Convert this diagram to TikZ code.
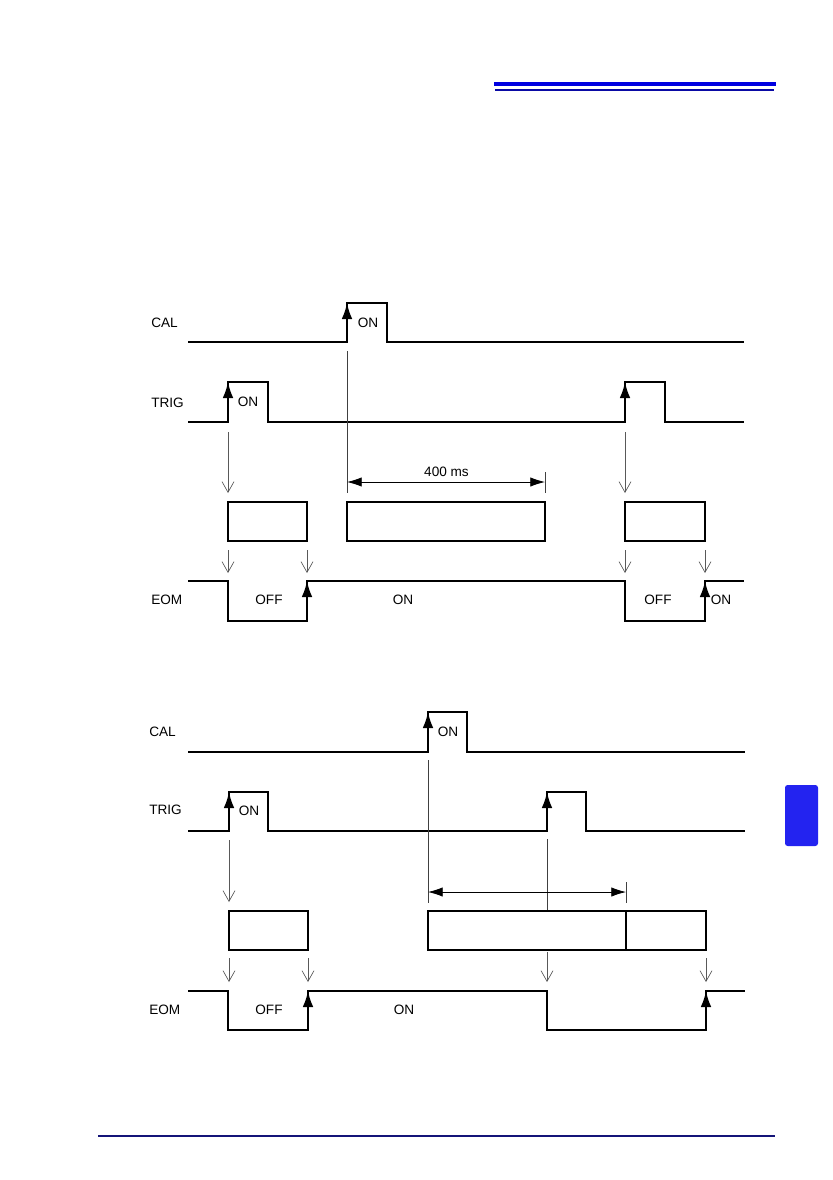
\documentclass[tikz,border=0pt]{standalone}
\usepackage{fontspec}
\setmainfont{Liberation Sans}
\usetikzlibrary{arrows.meta}
\definecolor{headblue}{RGB}{0,0,225}
\definecolor{headnavy}{RGB}{10,10,165}
\definecolor{tabblue}{RGB}{35,35,240}
\definecolor{footnavy}{RGB}{20,20,120}
\tikzset{
  sig/.style={line width=1.45pt, line join=miter},
  edgeup/.style={-{Latex[length=12pt,width=8pt]}, line width=1.45pt},
  drop/.style={-{Straight Barb[length=8pt,width=9pt]}, line width=0.5pt, draw=black!65},
  guide/.style={line width=0.55pt, draw=black!75},
  procbox/.style={line width=1.1pt},
  dimline/.style={{Latex[length=11pt,width=7pt]}-{Latex[length=11pt,width=7pt]}, line width=0.6pt},
  lbl/.style={font=\fontsize{10.2}{12}\selectfont, inner sep=0pt}
}
\begin{document}
\begin{tikzpicture}[x=0.75pt, y=-0.75pt]
  \useasboundingbox (0,0) rectangle (832,1180);
  % page furniture
  \fill[headblue] (494,82) rectangle (776,86);
  \fill[headnavy] (495,89) rectangle (774,91);
  \fill[tabblue, rounded corners=2pt] (785,785) rectangle (818,846);
  \draw[footnavy, line width=0.8pt] (98,1136) -- (775,1136);

  % ---- first chart
  \foreach \y/\name/\lab in {323/cala/CAL, 403/triga/TRIG, 600/eoma/EOM}
    \node[lbl, anchor=west] (\name) at (151,\y) {\lab};
  \draw[sig] (188,342) -- (347,342) -- (347,303) -- (387,303) -- (387,342) -- (744,342);
  \draw[sig] (188,422) -- (228,422) -- (228,382) -- (268,382) -- (268,422)
    -- (625,422) -- (625,382) -- (665,382) -- (665,422) -- (744,422);
  \draw[sig] (188,581) -- (228,581) -- (228,621) -- (307,621) -- (307,581)
    -- (625,581) -- (625,621) -- (705,621) -- (705,581) -- (744,581);
  \foreach \x/\lo/\hi in {347/342/303, 228/422/382, 625/422/382, 307/621/581, 705/621/581}
    \draw[edgeup] (\x,\lo) -- (\x,\hi);
  \node[lbl] (cona) at (368,323) {ON};
  \node[lbl] (tona) at (248,402) {ON};
  \node[lbl] (offa) at (269,600) {OFF};
  \node[lbl] (eona) at (403,600) {ON};
  \node[lbl] (offb) at (658,600) {OFF};
  \node[lbl] (eonb) at (721,600) {ON};
  % guides and measuring boxes
  \draw[guide] (347,351) -- (347,493);
  \draw[guide] (545,472) -- (545,493);
  \draw[dimline] (347,482) -- (545,482);
  \node[lbl] (wait) at (446.5,472) {400 ms};
  \foreach \x in {228, 625}
    \draw[drop] (\x,432) -- (\x,493);
  \foreach \a/\b in {228/307, 347/545, 625/705}
    \draw[procbox] (\a,502) rectangle (\b,541);
  \foreach \x in {228, 307, 625, 705}
    \draw[drop] (\x,550) -- (\x,573);

  % ---- second chart
  \foreach \y/\name/\lab in {732/calb/CAL, 810/trigb/TRIG, 1010/eomb/EOM}
    \node[lbl, anchor=west] (\name) at (149,\y) {\lab};
  \draw[sig] (188,752) -- (428,752) -- (428,712) -- (467,712) -- (467,752) -- (745,752);
  \draw[sig] (188,831) -- (229,831) -- (229,792) -- (268,792) -- (268,831)
    -- (547,831) -- (547,792) -- (586,792) -- (586,831) -- (745,831);
  \draw[sig] (188,991) -- (228,991) -- (228,1030) -- (308,1030) -- (308,991)
    -- (547,991) -- (547,1030) -- (706,1030) -- (706,991) -- (745,991);
  \foreach \x/\lo/\hi in {428/752/712, 229/831/792, 547/831/792, 308/1030/991, 706/1030/991}
    \draw[edgeup] (\x,\lo) -- (\x,\hi);
  \node[lbl] (conb) at (448,732) {ON};
  \node[lbl] (tonb) at (249,811) {ON};
  \node[lbl] (offc) at (269,1010) {OFF};
  \node[lbl] (eonc) at (404,1010) {ON};
  % guides and measuring boxes
  \draw[guide] (428,760) -- (428,903);
  \draw[guide] (547,839) -- (547,911);
  \draw[guide] (626,882) -- (626,903);
  \draw[dimline] (428,892) -- (626,892);
  \draw[drop] (229,840) -- (229,902);
  \draw[procbox] (229,911) rectangle (308,950);
  \draw[procbox] (428,911) rectangle (706,950);
  \draw[procbox] (626,911) -- (626,950);
  \foreach \x/\top in {229/958, 308/958, 547/952, 706/958}
    \draw[drop] (\x,\top) -- (\x,982);
\end{tikzpicture}
\end{document}
